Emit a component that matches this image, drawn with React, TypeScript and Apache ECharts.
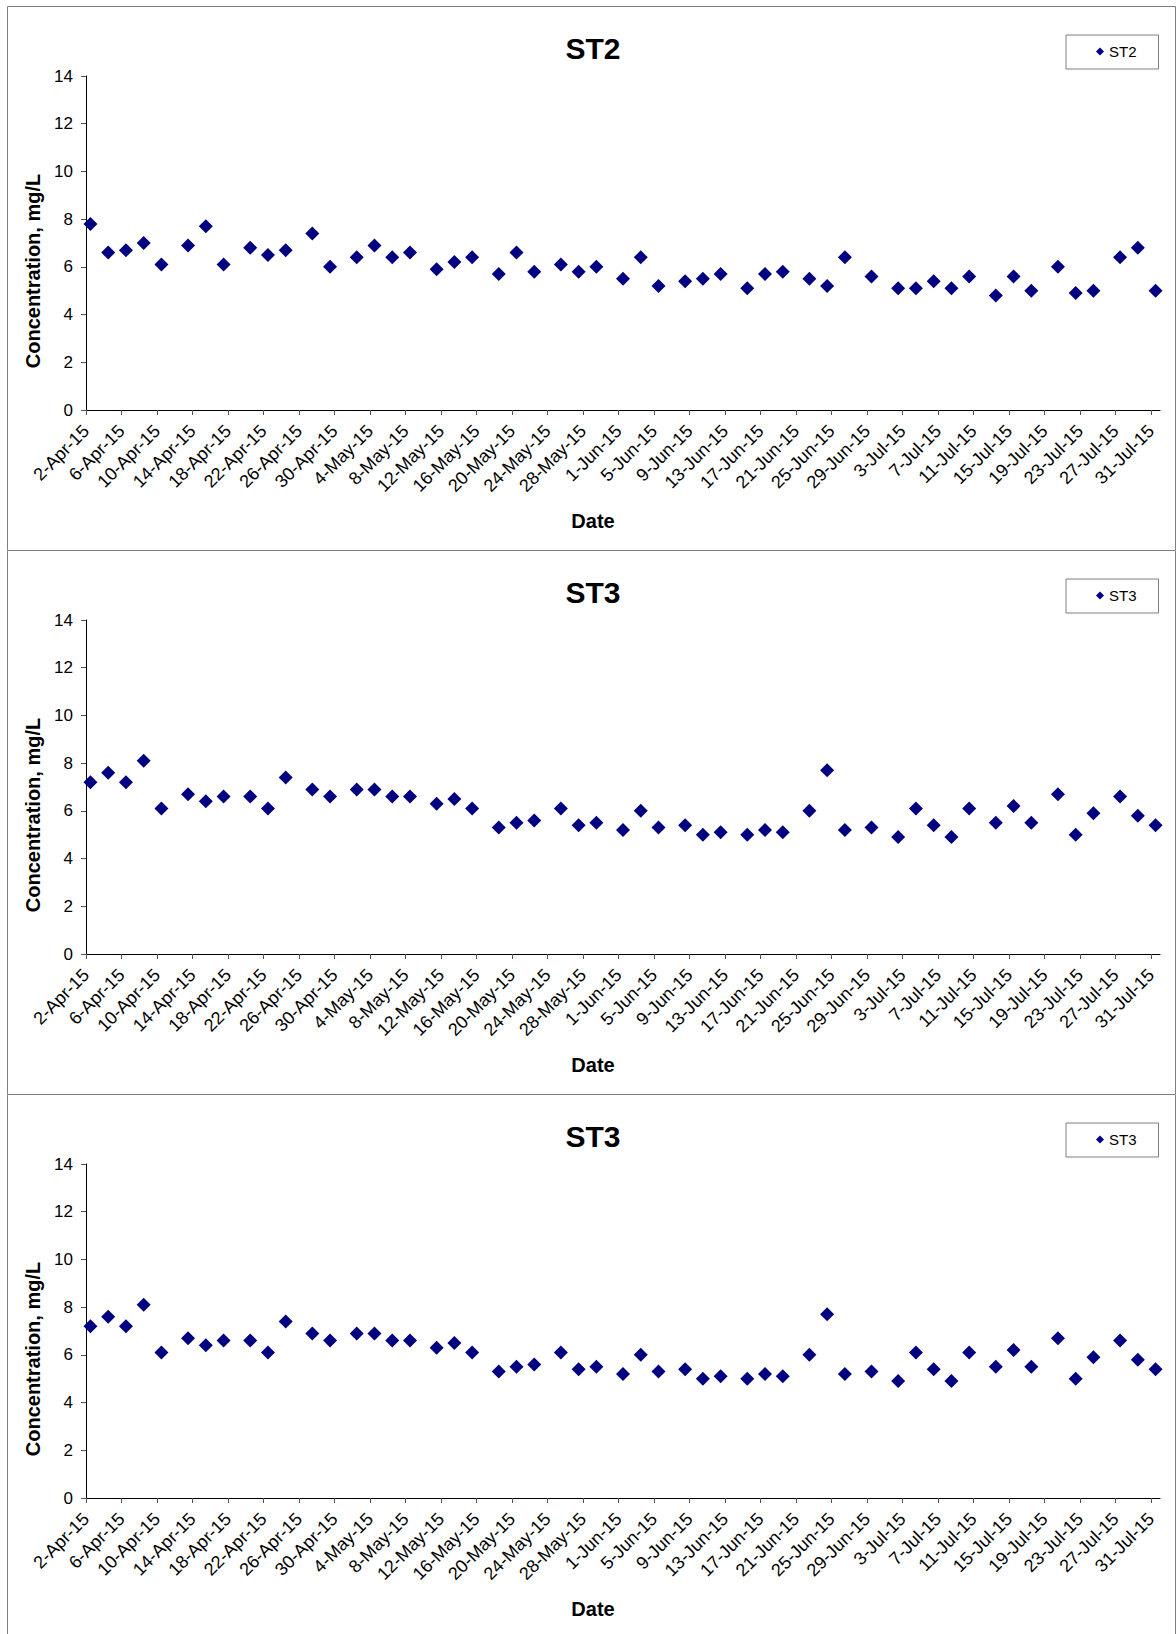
import React, { useEffect, useRef } from "react";
import * as echarts from "echarts";

// ---------------- data ----------------
const START_DATE = "2015-04-02"; // x axis origin (first tick)
const END_DATE = "2015-08-01"; // x axis end
const SAMPLE_HOUR_FRACTION = 0.5; // samples are plotted at mid-day

const SAMPLE_DATES = [
  "2015-04-02", "2015-04-04", "2015-04-06", "2015-04-08", "2015-04-10",
  "2015-04-13", "2015-04-15", "2015-04-17", "2015-04-20", "2015-04-22",
  "2015-04-24", "2015-04-27", "2015-04-29", "2015-05-02", "2015-05-04",
  "2015-05-06", "2015-05-08", "2015-05-11", "2015-05-13", "2015-05-15",
  "2015-05-18", "2015-05-20", "2015-05-22", "2015-05-25", "2015-05-27",
  "2015-05-29", "2015-06-01", "2015-06-03", "2015-06-05", "2015-06-08",
  "2015-06-10", "2015-06-12", "2015-06-15", "2015-06-17", "2015-06-19",
  "2015-06-22", "2015-06-24", "2015-06-26", "2015-06-29", "2015-07-02",
  "2015-07-04", "2015-07-06", "2015-07-08", "2015-07-10", "2015-07-13",
  "2015-07-15", "2015-07-17", "2015-07-20", "2015-07-22", "2015-07-24",
  "2015-07-27", "2015-07-29", "2015-07-31",
];

const ST2_VALUES = [
  7.8, 6.6, 6.7, 7.0, 6.1, 6.9, 7.7, 6.1, 6.8, 6.5,
  6.7, 7.4, 6.0, 6.4, 6.9, 6.4, 6.6, 5.9, 6.2, 6.4,
  5.7, 6.6, 5.8, 6.1, 5.8, 6.0, 5.5, 6.4, 5.2, 5.4,
  5.5, 5.7, 5.1, 5.7, 5.8, 5.5, 5.2, 6.4, 5.6, 5.1,
  5.1, 5.4, 5.1, 5.6, 4.8, 5.6, 5.0, 6.0, 4.9, 5.0,
  6.4, 6.8, 5.0,
];

const ST3_VALUES = [
  7.2, 7.6, 7.2, 8.1, 6.1, 6.7, 6.4, 6.6, 6.6, 6.1,
  7.4, 6.9, 6.6, 6.9, 6.9, 6.6, 6.6, 6.3, 6.5, 6.1,
  5.3, 5.5, 5.6, 6.1, 5.4, 5.5, 5.2, 6.0, 5.3, 5.4,
  5.0, 5.1, 5.0, 5.2, 5.1, 6.0, 7.7, 5.2, 5.3, 4.9,
  6.1, 5.4, 4.9, 6.1, 5.5, 6.2, 5.5, 6.7, 5.0, 5.9,
  6.6, 5.8, 5.4,
];

const PANEL_TITLES = ["ST2", "ST3", "ST3"];
const PANEL_SERIES = ["ST2", "ST3", "ST3"];
const PANEL_VALUES = [ST2_VALUES, ST3_VALUES, ST3_VALUES];

const Y_MIN = 0;
const Y_MAX = 14;
const Y_STEP = 2;
const X_TICK_STEP_DAYS = 4;
const MONTH_NAMES = ["Jan", "Feb", "Mar", "Apr", "May", "Jun", "Jul", "Aug", "Sep", "Oct", "Nov", "Dec"];

const Y_AXIS_TITLE = "Concentration, mg/L";
const X_AXIS_TITLE = "Date";

// ---------------- helpers ----------------
const DAY_MS = 86400000;
function toUTC(s: string): number {
  const [y, m, d] = s.split("-").map(Number);
  return Date.UTC(y, m - 1, d);
}
const START_MS = toUTC(START_DATE);
function dayOffset(s: string): number {
  return (toUTC(s) - START_MS) / DAY_MS;
}
const X_MAX_DAYS = dayOffset(END_DATE);
const X_TICK_VALUES: number[] = [];
for (let v = 0; v < X_MAX_DAYS; v += X_TICK_STEP_DAYS) X_TICK_VALUES.push(v);

function formatDay(v: number): string {
  if (Math.abs(v % X_TICK_STEP_DAYS) > 1e-6) return "";
  const d = new Date(START_MS + Math.round(v) * DAY_MS);
  const yy = String(d.getUTCFullYear()).slice(-2);
  return `${d.getUTCDate()}-${MONTH_NAMES[d.getUTCMonth()]}-${yy}`;
}

const FONT = "'Liberation Sans', Arial, sans-serif";
const PANEL_W = 1176;
const PANEL_STEP = 544;
const PANEL_TOP0 = 6;
const PAGE_H = 1634;

function Panel({ index }: { index: number }) {
  const ref = useRef<HTMLDivElement>(null);
  useEffect(() => {
    if (!ref.current) return;
    const chart = echarts.init(ref.current, undefined, { renderer: "svg" });
    const values = PANEL_VALUES[index];
    const data = SAMPLE_DATES.map((d, i) => [dayOffset(d) + SAMPLE_HOUR_FRACTION, values[i]]);
    chart.setOption({
      animation: false,
      backgroundColor: "#ffffff",
      textStyle: { fontFamily: FONT },
      title: {
        text: PANEL_TITLES[index],
        left: 593,
        top: 27,
        padding: 0,
        textAlign: "center",
        textStyle: { fontFamily: FONT, fontSize: 30, fontWeight: "bold", color: "#000" },
      },
      legend: {
        data: [PANEL_SERIES[index]],
        left: 1066,
        top: 29,
        orient: "horizontal",
        icon: "diamond",
        itemWidth: 8,
        itemHeight: 8,
        padding: [9, 22, 10, 30],
        borderColor: "#808080",
        borderWidth: 1,
        backgroundColor: "#fff",
        itemStyle: { opacity: 1 },
        textStyle: { fontFamily: FONT, fontSize: 15, color: "#000" },
      },
      grid: {
        left: 86,
        top: 70,
        width: 1074,
        height: 334,
        containLabel: false,
        outerBoundsMode: "none",
      },
      xAxis: {
        type: "value",
        min: 0,
        max: X_MAX_DAYS,
        interval: X_TICK_STEP_DAYS,
        splitLine: { show: false },
        axisLine: { show: true, onZero: false, lineStyle: { color: "#000", width: 1 } },
        axisTick: {
          show: true,
          length: 5,
          inside: false,
          customValues: X_TICK_VALUES,
          lineStyle: { color: "#555" },
        },
        axisLabel: {
          rotate: 45,
          margin: 18,
          fontSize: 18,
          color: "#000",
          fontFamily: FONT,
          customValues: X_TICK_VALUES,
          formatter: (v: number) => formatDay(v),
          showMinLabel: true,
          showMaxLabel: true,
          hideOverlap: false,
        },
      },
      yAxis: {
        type: "value",
        min: Y_MIN,
        max: Y_MAX,
        interval: Y_STEP,
        splitLine: { show: false },
        axisLine: { show: true, lineStyle: { color: "#000", width: 1 } },
        axisTick: { show: true, length: 5, inside: false, lineStyle: { color: "#555" } },
        axisLabel: { fontSize: 17, margin: 13, color: "#000", fontFamily: FONT },
      },
      graphic: [
        {
          type: "rect",
          silent: true,
          shape: { x: 7.5, y: 0.5, width: 1168, height: 544 },
          style: { fill: "none", stroke: "#7f7f7f", lineWidth: 1 },
          z: -1,
        },
        {
          type: "text",
          x: 33,
          y: 265,
          rotation: Math.PI / 2,
          style: {
            text: Y_AXIS_TITLE,
            fontFamily: FONT,
            fontSize: 20,
            fontWeight: "bold",
            fill: "#000",
            align: "center",
            verticalAlign: "middle",
          },
        },
        {
          type: "text",
          x: 593,
          y: 515,
          style: {
            text: X_AXIS_TITLE,
            fontFamily: FONT,
            fontSize: 20,
            fontWeight: "bold",
            fill: "#000",
            align: "center",
            verticalAlign: "middle",
          },
        },
      ],
      series: [
        {
          name: PANEL_SERIES[index],
          type: "scatter",
          symbol: "diamond",
          symbolSize: 14,
          clip: false,
          itemStyle: { color: "#000080", opacity: 1 },
          data,
        },
      ],
    });
    return () => chart.dispose();
  }, [index]);
  const top = PANEL_TOP0 + index * PANEL_STEP;
  const height = Math.min(PANEL_STEP + 1, PAGE_H - top);
  return (
    <div
      ref={ref}
      style={{ position: "absolute", left: 0, top, width: PANEL_W, height }}
    />
  );
}

export default function App() {
  return (
    <div
      style={{
        position: "absolute",
        left: 0,
        top: 0,
        width: PANEL_W,
        height: PAGE_H,
        overflow: "hidden",
        background: "#fff",
      }}
    >
      {PANEL_TITLES.map((_, i) => (
        <Panel key={i} index={i} />
      ))}
    </div>
  );
}
